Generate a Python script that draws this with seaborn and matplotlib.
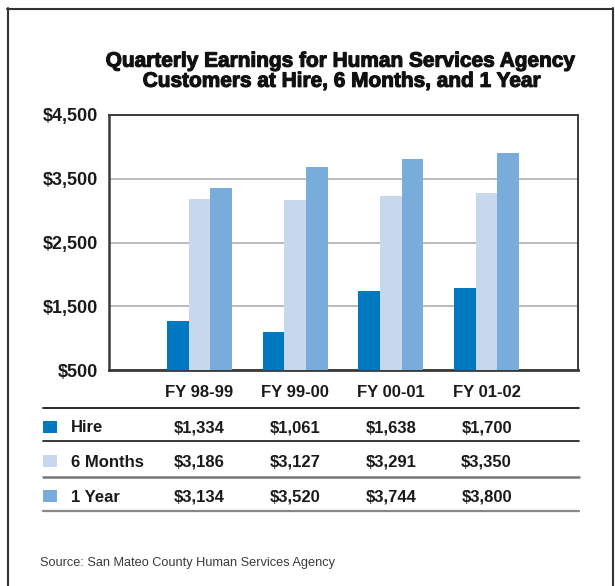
import matplotlib
matplotlib.use("Agg")
import matplotlib.pyplot as plt
import matplotlib.patheffects as pe
import seaborn as sns
import pandas as pd
from matplotlib.patches import Rectangle
from matplotlib.lines import Line2D
from matplotlib.transforms import blended_transform_factory, Affine2D

# ---------------- data ----------------
periods = ["FY 98-99", "FY 99-00", "FY 00-01", "FY 01-02"]
series = ["Hire", "6 Months", "1 Year"]
hire = [1268, 1097, 1736, 1783]
six_months = [3186, 3170, 3233, 3279]
one_year = [3357, 3685, 3809, 3903]
table_hire = ["$1,334", "$1,061", "$1,638", "$1,700"]
table_six = ["$3,186", "$3,127", "$3,291", "$3,350"]
table_year = ["$3,134", "$3,520", "$3,744", "$3,800"]
yticks = [500, 1500, 2500, 3500, 4500]
ytick_labels = ["$500", "$1,500", "$2,500", "$3,500", "$4,500"]
colors = ["#0079C1", "#C6D7EE", "#7AACDB"]
title1 = "Quarterly Earnings for Human Services Agency"
title2 = "Customers at Hire, 6 Months, and 1 Year"
source = "Source: San Mateo County Human Services Agency"

# ---------------- style ----------------
W, H = 615, 586
sns.set_theme(style="white")
plt.rcParams['font.family'] = ['Liberation Sans', 'DejaVu Sans']

fig = plt.figure(figsize=(W / 100, H / 100), dpi=100)
fig.patch.set_facecolor("white")
px = Affine2D().scale(1 / W, -1 / H).translate(0, 1) + fig.transFigure

L, R, T, B = 109.3, 578.3, 114.7, 370.3
ax = fig.add_axes([L / W, 1 - B / H, (R - L) / W, (B - T) / H])

df = pd.DataFrame({
    "Period": periods * 3,
    "Series": [s for s in series for _ in periods],
    "Value": hire + six_months + one_year,
})
sns.barplot(data=df, x="Period", y="Value", hue="Series", hue_order=series,
            palette=colors, width=0.68, saturation=1, ax=ax, legend=False,
            linewidth=0, zorder=3)

ax.set_xlim(-0.943, 3.959)
ax.set_ylim(500, 4500)
ax.set_yticks(yticks)
ax.set_yticklabels(ytick_labels, fontsize=13, fontweight="bold", color="#1a1a1a")
ax.set_xticks(range(len(periods)))
ax.set_xticklabels([""] * len(periods))
ax.tick_params(axis="both", length=0)
ax.tick_params(axis="y", pad=8)
ax.set_xlabel("")
ax.set_ylabel("")
ax.set_axisbelow(True)
ax.yaxis.grid(True, color="#BBBBBB", lw=1.4)
for name, sp in ax.spines.items():
    sp.set_visible(True)
    sp.set_color("#3a3a3a")
    sp.set_linewidth(1.4)
ax.spines["bottom"].set_linewidth(2.0)
ax.spines["left"].set_linewidth(1.8)

# ---------------- table ----------------
bl = blended_transform_factory(ax.transData, px)
txt_kw = dict(fontsize=12, fontweight="bold", color="#1a1a1a")
for i, p in enumerate(periods):
    fig.text(i, 396.7, p, transform=bl, ha="center", va="baseline", **txt_kw)

row_base = [432.3, 466.7, 501.7]
rows = [table_hire, table_six, table_year]
for r, (name, vals, col, yb) in enumerate(zip(series, rows, colors, row_base)):
    fig.patches.append(Rectangle((43, yb - 11.8), 13.5, 12, transform=px,
                                 facecolor=col, edgecolor="none"))
    fig.text(71, yb, name, transform=px, ha="left", va="baseline", **txt_kw)
    for i, v in enumerate(vals):
        fig.text(i, yb, v, transform=bl, ha="center", va="baseline", **txt_kw)

line_specs = [(408.3, "#1a1a1a", 1.3), (441.0, "#2a2a2a", 1.3),
              (476.7, "#777777", 1.8), (511.0, "#888888", 1.6)]
for y, c, lw in line_specs:
    fig.lines.append(Line2D([43, 579.3], [y, y], transform=px, color=c, lw=lw))

# ---------------- titles & source ----------------
heavy = [pe.withStroke(linewidth=0.8, foreground="#111111")]
fig.text(341, 66.7, title1, transform=px, ha="center", va="baseline",
         fontsize=15.0, fontweight="bold", color="#111111", path_effects=heavy)
fig.text(342.4, 86.8, title2, transform=px, ha="center", va="baseline",
         fontsize=15.0, fontweight="bold", color="#111111", path_effects=heavy)
fig.text(40, 566, source, transform=px, ha="left", va="baseline",
         fontsize=9.2, color="#3a3a3a")

# ---------------- frame ----------------
fig.lines.append(Line2D([7.5, 7.5], [8.3, 586], transform=px, color="#333333", lw=1.5))
fig.lines.append(Line2D([6.8, 613.2], [9, 9], transform=px, color="#333333", lw=1.5))
fig.lines.append(Line2D([612.5, 612.5], [8.3, 586], transform=px, color="#333333", lw=1.5))

fig.savefig("out.png", dpi=100, facecolor="white")
